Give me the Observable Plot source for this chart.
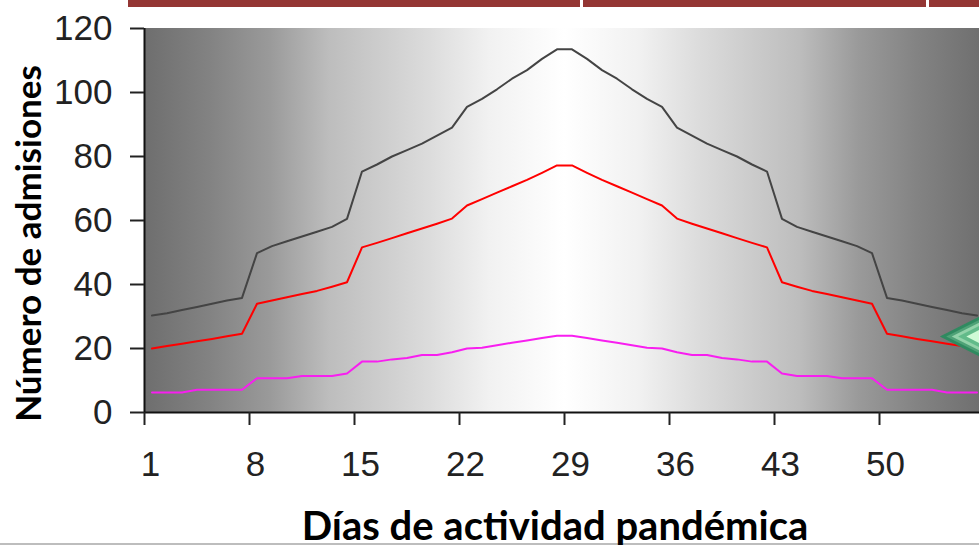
<!DOCTYPE html>
<html><head><meta charset="utf-8">
<script src="https://cdn.jsdelivr.net/npm/d3@7"></script>
<script src="https://cdn.jsdelivr.net/npm/@observablehq/plot@0.6"></script>
<style>
html,body{margin:0;padding:0;background:#fff;overflow:hidden}
#wrap{position:relative;width:979px;height:545px}
.bar{position:absolute;top:0;height:7px;background:#943634}
#rule{position:absolute;left:0;right:0;top:543px;height:2px;background:#bdbdbd}
svg{display:block}
</style></head><body>
<div id="wrap">
<div class="bar" style="left:128px;width:452px"></div>
<div class="bar" style="left:583px;width:343px"></div>
<div class="bar" style="left:929px;width:50px"></div>
<div id="rule"></div>
</div>
<script>
const xTicks = [1, 8, 15, 22, 29, 36, 43, 50];
const yTicks = [0, 20, 40, 60, 80, 100, 120];
const xTitle = "Días de actividad pandémica";
const yTitle = "Número de admisiones";

// Rising half, days 1–28; the curves mirror around days 28–29 up to day 56.
const highHalf = [30.3,31,32,33,34,35,35.8,49.8,52,53.5,55,56.5,58,60.5,75.3,77.5,80,82,84,86.5,89,95.5,98,101,104.3,107,110.5,113.5];
const midHalf  = [20,20.8,21.5,22.3,23,23.8,24.6,34,35,36,37,38,39.3,40.7,51.6,53,54.5,56,57.5,59,60.6,64.7,66.7,68.7,70.7,72.7,74.9,77.2];
const lowHalf  = [6.25,6.25,6.25,7.1,7.1,7.1,7.1,10.7,10.7,10.7,11.4,11.4,11.4,12.2,15.9,15.9,16.6,17,18,18,18.8,20,20.2,21,21.8,22.5,23.3,24];
const seriesColors = {high:"#444444", mid:"#ff0000", low:"#f81ef0"};

const series = (name, half) => [...half, ...half.slice().reverse()].map((v,i)=>({name, day:i+1, v}));
const rows = [...series("high",highHalf), ...series("mid",midHalf), ...series("low",lowHalf)];

const gradStops = [[0,"#6e6e6e"],[0.08,"#838383"],[0.15,"#9a9a9a"],[0.22,"#bdbdbd"],[0.34,"#dcdcdc"],[0.41,"#f1f1f1"],[0.5,"#ffffff"],
                   [0.59,"#f1f1f1"],[0.66,"#dcdcdc"],[0.78,"#bdbdbd"],[0.85,"#9a9a9a"],[0.92,"#838383"],[1,"#6e6e6e"]];

// Green diamond marker, cut by the right edge of the picture
const diamondDay = 57.07, diamondValue = 23.75, diamondW = 3.05, diamondH = 7.2;
const diamondScales = [1, 0.86, 0.74, 0.6, 0.42];
const diamondFills = ["#2f8a60", "#4fa277", "#93d3aa", "#62bb8a", "#cffbd6"];
const diamond = diamondScales.flatMap((s,k)=>[[-1,0],[0,1],[1,0],[0,-1],[-1,0]].map(([a,b])=>({
  k, x: diamondDay+a*s*diamondW, y: diamondValue+b*s*diamondH, f: diamondFills[k]})));

const tickFont = {fontSize:35, fill:"#222", fontFamily:"Liberation Sans, Arial, sans-serif"};
const titleFont = {fontWeight:700, fill:"#000", fontFamily:"Lato, sans-serif"};

const gradient = () => {
  const NS="http://www.w3.org/2000/svg";
  const defs=document.createElementNS(NS,"defs");
  const g=document.createElementNS(NS,"linearGradient");
  g.setAttribute("id","bg");
  for(const [o,c] of gradStops){const s=document.createElementNS(NS,"stop");s.setAttribute("offset",o);s.setAttribute("stop-color",c);g.appendChild(s);}
  defs.appendChild(g);return defs;
};

const chart = Plot.plot({
  width:979, height:545,
  marginLeft:144, marginRight:0, marginTop:28, marginBottom:133,
  style:{background:"transparent", position:"absolute", left:"0", top:"0"},
  x:{domain:[1, 1+835/15], label:null},
  y:{domain:[0,120], label:null},
  marks:[
    gradient,
    Plot.rect([0],{x1:()=>1,x2:()=>57,y1:()=>0,y2:()=>120,fill:"url(#bg)"}),
    Plot.line(rows,{x:d=>d.day+0.5,y:"v",z:"name",stroke:d=>seriesColors[d.name],strokeWidth:2,curve:"linear"}),
    Plot.line(diamond,{x:"x",y:"y",z:"k",fill:"f",stroke:"none"}),
    Plot.ruleY([0],{stroke:"#111",strokeWidth:2}),
    Plot.ruleX([1],{stroke:"#111",strokeWidth:2}),
    Plot.axisY({ticks:yTicks,tickSize:14,tickPadding:18,stroke:"#222",strokeWidth:2,...tickFont,label:null}),
    Plot.axisX({ticks:xTicks,tickSize:13,text:null,stroke:"#222",strokeWidth:2,label:null}),
    Plot.text(xTicks,{x:d=>d,frameAnchor:"bottom",dx:6,dy:63,text:d=>String(d),...tickFont}),
    Plot.text([xTitle],{frameAnchor:"bottom",dx:-7,dy:127,text:d=>d,fontSize:40,letterSpacing:0.8,...titleFont}),
    Plot.text([yTitle],{frameAnchor:"left",textAnchor:"middle",dx:-115,rotate:-90,dy:23,text:d=>d,fontSize:35,letterSpacing:0.7,...titleFont})
  ]
});
document.getElementById("wrap").appendChild(chart);
</script>
</body></html>
